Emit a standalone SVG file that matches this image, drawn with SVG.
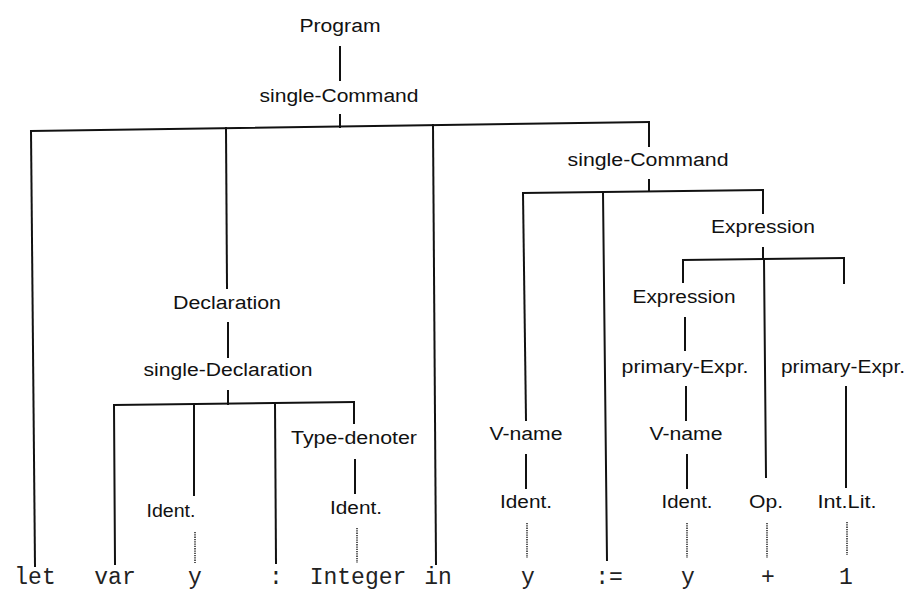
<svg xmlns="http://www.w3.org/2000/svg" width="909" height="590" viewBox="0 0 909 590">
<style>
.l{font-family:"Liberation Sans",Arial,sans-serif;font-size:18px;fill:#111;text-anchor:middle}
.t{font-family:"Liberation Mono","Courier New",monospace;font-size:23px;fill:#222;text-anchor:middle}
.e{stroke:#111;stroke-width:2;fill:none;stroke-linecap:square}
.d{stroke:#222;stroke-width:1.5;fill:none;stroke-dasharray:1.3 1}
</style>
<rect width="909" height="590" fill="#fff"/>
<g id="connectors">
<line class="e" x1="340" y1="47" x2="340" y2="80"/>
<line class="e" x1="340" y1="115" x2="340" y2="127"/>
<line class="e" x1="31" y1="131" x2="649" y2="122"/>
<line class="e" x1="31" y1="131" x2="35" y2="566"/>
<line class="e" x1="226" y1="128" x2="227" y2="288"/>
<line class="e" x1="433" y1="125" x2="436" y2="564"/>
<line class="e" x1="649" y1="122" x2="649" y2="146"/>
<line class="e" x1="228" y1="323" x2="228" y2="357"/>
<line class="e" x1="228" y1="391" x2="228" y2="404"/>
<line class="e" x1="114" y1="405" x2="354" y2="402"/>
<line class="e" x1="114" y1="405" x2="115" y2="564"/>
<line class="e" x1="194" y1="404" x2="194" y2="495"/>
<line class="e" x1="275" y1="403" x2="276" y2="563"/>
<line class="e" x1="354" y1="402" x2="354" y2="423"/>
<line class="e" x1="355" y1="460" x2="355" y2="493"/>
<line class="d" x1="195" y1="532" x2="195" y2="563"/>
<line class="d" x1="357" y1="528" x2="357" y2="563"/>
<line class="e" x1="649" y1="180" x2="649" y2="191"/>
<line class="e" x1="523" y1="193" x2="763" y2="190"/>
<line class="e" x1="523" y1="193" x2="526" y2="420"/>
<line class="e" x1="603" y1="192" x2="607" y2="560"/>
<line class="e" x1="763" y1="190" x2="763" y2="213"/>
<line class="e" x1="763" y1="248" x2="763" y2="259"/>
<line class="e" x1="683" y1="260" x2="844" y2="258"/>
<line class="e" x1="683" y1="260" x2="683" y2="282"/>
<line class="e" x1="764" y1="259" x2="766" y2="477"/>
<line class="e" x1="844" y1="258" x2="844" y2="283"/>
<line class="e" x1="685" y1="318" x2="685" y2="350"/>
<line class="e" x1="686" y1="387" x2="686" y2="420"/>
<line class="e" x1="687" y1="455" x2="687" y2="488"/>
<line class="e" x1="846" y1="387" x2="846" y2="487"/>
<line class="e" x1="526" y1="455" x2="526" y2="488"/>
<line class="d" x1="527" y1="523" x2="527" y2="558"/>
<line class="d" x1="687" y1="523" x2="687" y2="558"/>
<line class="d" x1="767" y1="523" x2="767" y2="558"/>
<line class="d" x1="847" y1="522" x2="847" y2="555"/>
</g>
<g id="n-program"><text class="l" x="340" y="32" textLength="81" lengthAdjust="spacingAndGlyphs">Program</text></g>
<g id="n-cmd1"><text class="l" x="339" y="102" textLength="159" lengthAdjust="spacingAndGlyphs">single-Command</text></g>
<g id="n-decl"><text class="l" x="227" y="309" textLength="108" lengthAdjust="spacingAndGlyphs">Declaration</text></g>
<g id="n-sdecl"><text class="l" x="228" y="376" textLength="169" lengthAdjust="spacingAndGlyphs">single-Declaration</text></g>
<g id="n-type"><text class="l" x="354" y="444" textLength="126" lengthAdjust="spacingAndGlyphs">Type-denoter</text></g>
<g id="n-ident1"><text class="l" x="171" y="517" textLength="49" lengthAdjust="spacingAndGlyphs">Ident.</text></g>
<g id="n-ident2"><text class="l" x="356" y="514" textLength="52" lengthAdjust="spacingAndGlyphs">Ident.</text></g>
<g id="n-cmd2"><text class="l" x="648" y="166" textLength="161" lengthAdjust="spacingAndGlyphs">single-Command</text></g>
<g id="n-expr1"><text class="l" x="763" y="233" textLength="104" lengthAdjust="spacingAndGlyphs">Expression</text></g>
<g id="n-expr2"><text class="l" x="684" y="303" textLength="103" lengthAdjust="spacingAndGlyphs">Expression</text></g>
<g id="n-prim1"><text class="l" x="685" y="373" textLength="127" lengthAdjust="spacingAndGlyphs">primary-Expr.</text></g>
<g id="n-prim2"><text class="l" x="843" y="373" textLength="124" lengthAdjust="spacingAndGlyphs">primary-Expr.</text></g>
<g id="n-vname1"><text class="l" x="526" y="440" textLength="73" lengthAdjust="spacingAndGlyphs">V-name</text></g>
<g id="n-vname2"><text class="l" x="686" y="440" textLength="73" lengthAdjust="spacingAndGlyphs">V-name</text></g>
<g id="n-ident3"><text class="l" x="526" y="508" textLength="52" lengthAdjust="spacingAndGlyphs">Ident.</text></g>
<g id="n-ident4"><text class="l" x="687" y="508" textLength="51" lengthAdjust="spacingAndGlyphs">Ident.</text></g>
<g id="n-op"><text class="l" x="766" y="508" textLength="34" lengthAdjust="spacingAndGlyphs">Op.</text></g>
<g id="n-intlit"><text class="l" x="847" y="508" textLength="59" lengthAdjust="spacingAndGlyphs">Int.Lit.</text></g>
<g id="t-let"><text class="t" x="35" y="584">let</text></g>
<g id="t-var"><text class="t" x="115" y="584">var</text></g>
<g id="t-y1"><text class="t" x="195" y="584">y</text></g>
<g id="t-colon"><text class="t" x="276" y="584">:</text></g>
<g id="t-integer"><text class="t" x="358" y="584">Integer</text></g>
<g id="t-in"><text class="t" x="438" y="584">in</text></g>
<g id="t-y2"><text class="t" x="528" y="584">y</text></g>
<g id="t-assign"><text class="t" x="609" y="584">:=</text></g>
<g id="t-y3"><text class="t" x="688" y="584">y</text></g>
<g id="t-plus"><text class="t" x="768" y="584">+</text></g>
<g id="t-one"><text class="t" x="846" y="584">1</text></g>
</svg>
